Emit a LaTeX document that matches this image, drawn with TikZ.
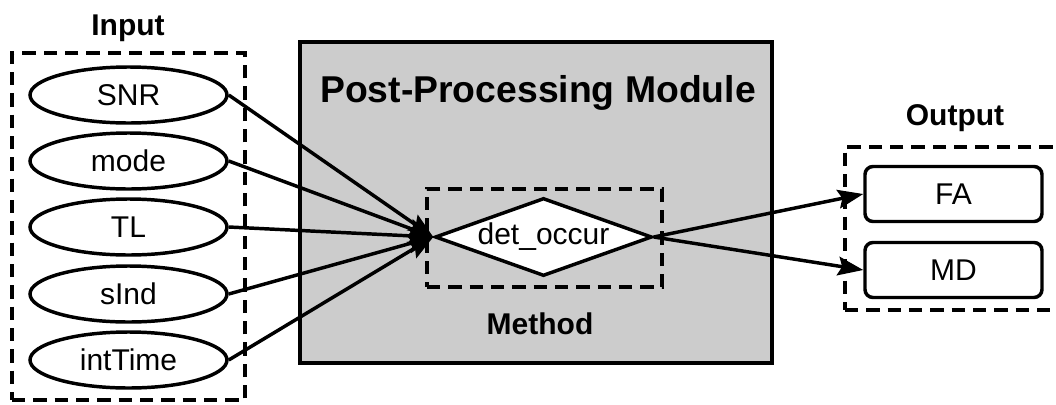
\documentclass[tikz,border=0pt]{standalone}
\usepackage{fontspec}
\setmainfont{Liberation Sans}
\usetikzlibrary{shapes.geometric, arrows.meta, positioning}

\begin{document}
\begin{tikzpicture}[
    x=0.75pt, y=-0.75pt,
    line width=2.6pt,
    every node/.style={align=center, font=\fontsize{22.5}{27}\selectfont},
    group/.style={rectangle, draw=black, dash pattern=on 10pt off 6pt, inner sep=0pt},
    param/.style={ellipse, draw=black, fill=white, solid, minimum width=147.75pt, minimum height=42pt, inner sep=0pt},
    module/.style={rectangle, draw=black, fill=black!20, line width=2.8pt, minimum width=354pt, minimum height=240.75pt},
    decision/.style={diamond, draw=black, fill=white, solid, aspect=2.8, minimum width=162.75pt, minimum height=58.5pt, inner sep=0pt},
    result/.style={rectangle, rounded corners=6pt, draw=black, fill=white, solid, minimum width=132.75pt, minimum height=41.25pt},
    heading/.style={font=\fontsize{22.5}{27}\selectfont\bfseries, anchor=base},
    arrow/.style={-{Stealth[length=19pt, width=14pt, inset=3pt]}, line width=2.6pt}
]
\useasboundingbox (0,0) rectangle (1056,404);

% Post-Processing Module
\node (module) [module] at (536,202.5) {};
\node (title) [heading, font=\fontsize{28}{34}\selectfont\bfseries] at (538,102) {Post-Processing Module};

% Method
\node (method_box) [group, minimum width=176.25pt, minimum height=73.5pt] at (544.5,238) {};
\node (detocc) [decision] at (543.5,237) {det\_occur};
\node (method) [heading] at (540,334) {Method};

% Input
\node (input_box) [group, minimum width=174.75pt, minimum height=260.25pt] at (128.5,226.5) {};
\node (input) [heading] at (128,35) {Input};
\node (snr) [param] at (128.5,95) {SNR};
\node (mode) [param] at (128.5,161) {mode};
\node (tl) [param] at (128.5,227) {TL};
\node (sind) [param] at (128.5,294) {sInd};
\node (inttime) [param] at (128.5,360) {intTime};

% Output
\node (output_box) [group, minimum width=168.75pt, minimum height=122.25pt] at (957.5,228.5) {};
\node (output) [heading] at (955,125) {Output};
\node (fa) [result] at (953.5,194) {FA};
\node (md) [result] at (953.5,270) {MD};

% Arrows
\draw [arrow] (snr.east) -- (detocc.west);
\draw [arrow] (mode.east) -- (detocc.west);
\draw [arrow] (tl.east) -- (detocc.west);
\draw [arrow] (sind.east) -- (detocc.west);
\draw [arrow] (inttime.east) -- (detocc.west);
\draw [arrow] (detocc.east) -- (fa.west);
\draw [arrow] (detocc.east) -- (md.west);

\end{tikzpicture}
\end{document}
